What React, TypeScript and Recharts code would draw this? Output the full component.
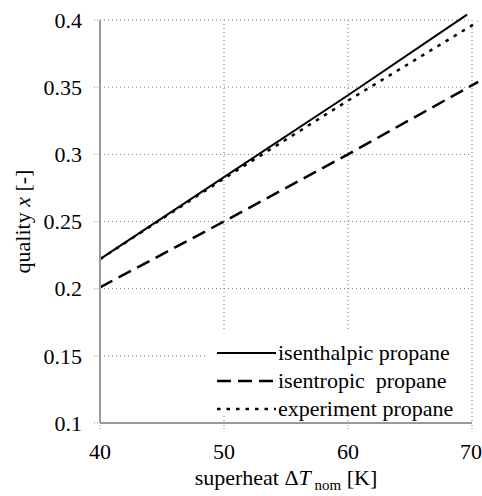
import {
  CartesianGrid,
  Legend,
  Line,
  LineChart,
  XAxis,
  YAxis,
} from "recharts";

// superheat ΔT_nom [K] vs quality x [-]
const isenthalpicT = [40, 50, 60, 69.6];
const isenthalpicX = [0.222, 0.283, 0.344, 0.404];

const isentropicT = [40, 50, 60, 70.5];
const isentropicX = [0.201, 0.25, 0.3, 0.354];

const experimentT = [40, 45, 50, 55, 60, 65, 70, 70.5];
const experimentX = [0.222, 0.252, 0.282, 0.311, 0.34, 0.368, 0.396, 0.399];

const xTicks = [40, 50, 60, 70];
const yTicks = [0.1, 0.15, 0.2, 0.25, 0.3, 0.35, 0.4];

const seriesNames = [
  "isenthalpic propane",
  "isentropic  propane",
  "experiment propane",
];

const toPoints = (ts: number[], xs: number[]) =>
  ts.map((t, i) => ({ t, x: xs[i] }));

const font = "Liberation Serif, serif";
const borderColor = "#999";

const series = [
  { name: seriesNames[0], data: toPoints(isenthalpicT, isenthalpicX), dash: undefined, width: 2 },
  { name: seriesNames[1], data: toPoints(isentropicT, isentropicX), dash: "14 7", width: 2.5 },
  { name: seriesNames[2], data: toPoints(experimentT, experimentX), dash: "3.5 6", width: 2.5 },
];

const tickStyle = { fill: "#000", fontSize: 22, fontFamily: font };

function LegendBox() {
  return (
    <div
      style={{
        background: "#fff",
        width: 262,
        height: 82,
        paddingTop: 8,
        boxSizing: "border-box",
        color: "#000",
      }}
    >
      {series.map((s) => (
        <div
          key={s.name}
          style={{ display: "flex", alignItems: "center", height: 28, paddingLeft: 10 }}
        >
          <svg width={61} height={10} style={{ flex: "none" }}>
            <line
              x1={0}
              x2={59}
              y1={5}
              y2={5}
              stroke="#000"
              strokeWidth={s.width}
              strokeDasharray={s.dash}
            />
          </svg>
          <span
            style={{
              whiteSpace: "pre",
              lineHeight: "28px",
              fontFamily: font,
              fontSize: 22,
            }}
          >
            {s.name}
          </span>
        </div>
      ))}
    </div>
  );
}

export default function App() {
  return (
    <div
      style={{
        position: "relative",
        width: 482,
        height: 496,
        background: "#fff",
        fontFamily: font,
      }}
    >
      <style>
        {"body{margin:0} .recharts-line, .recharts-line * { clip-path: none !important; } .recharts-wrapper, .recharts-wrapper text, .recharts-legend-wrapper { font-family: 'Liberation Serif', serif; }"}
      </style>
      <LineChart
        width={482}
        height={496}
        margin={{ top: 20, right: 10, left: 0, bottom: 0 }}
      >
        <CartesianGrid stroke="#777" strokeDasharray="1 3" />
        <XAxis
          dataKey="t"
          type="number"
          domain={[40, 70]}
          ticks={xTicks}
          allowDataOverflow
          height={73}
          tickSize={6}
          tickMargin={14}
          tick={tickStyle}
          tickLine={{ stroke: "#888", strokeDasharray: "1 2" }}
          axisLine={{ stroke: borderColor, strokeWidth: 2 }}
          label={{
            content: ({ viewBox }: any) => (
              <text
                x={viewBox.x + viewBox.width / 2}
                y={485}
                textAnchor="middle"
                fontSize={22}
                fill="#000"
                fontFamily={font}
              >
                superheat Δ<tspan fontStyle="italic">T</tspan>
                <tspan fontSize={15} dy={5}> nom</tspan>
                <tspan dy={-5}> [K]</tspan>
              </text>
            ),
          }}
        />
        <XAxis
          xAxisId="top"
          orientation="top"
          type="number"
          domain={[40, 70]}
          height={0}
          tick={false}
          tickLine={false}
          axisLine={{ stroke: borderColor, strokeWidth: 2 }}
        />
        <YAxis
          type="number"
          domain={[0.1, 0.4]}
          ticks={yTicks}
          allowDataOverflow
          width={100}
          tickSize={6}
          tickMargin={12}
          tick={tickStyle}
          tickLine={{ stroke: "#888", strokeDasharray: "1 2" }}
          axisLine={{ stroke: borderColor, strokeWidth: 2 }}
          label={{
            content: ({ viewBox }: any) => {
              const cy = viewBox.y + viewBox.height / 2;
              return (
                <text
                  x={22}
                  y={cy}
                  transform={`rotate(-90 22 ${cy})`}
                  textAnchor="middle"
                  dominantBaseline="central"
                  fontSize={22}
                  fill="#000"
                  fontFamily={font}
                >
                  quality <tspan fontStyle="italic">x</tspan> [-]
                </text>
              );
            },
          }}
        />
        <YAxis
          yAxisId="right"
          orientation="right"
          type="number"
          domain={[0.1, 0.4]}
          width={0}
          tick={false}
          tickLine={false}
          axisLine={{ stroke: borderColor, strokeWidth: 2 }}
        />
        <Legend
          layout="vertical"
          align="center"
          verticalAlign="middle"
          wrapperStyle={{ left: 207, top: 331, width: 262 }}
          content={() => <LegendBox />}
        />
        {series.map((s) => (
          <Line
            key={s.name}
            data={s.data}
            dataKey="x"
            name={s.name}
            type="linear"
            stroke="#000"
            strokeWidth={s.width}
            strokeDasharray={s.dash}
            dot={false}
            activeDot={false}
            isAnimationActive={false}
          />
        ))}
      </LineChart>
    </div>
  );
}
